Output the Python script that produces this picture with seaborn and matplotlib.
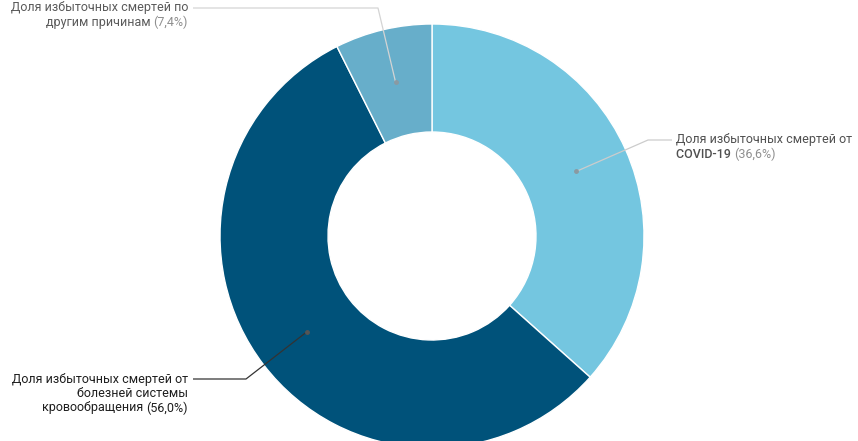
import numpy as np
import matplotlib
matplotlib.use("Agg")
import matplotlib.pyplot as plt
import seaborn as sns

# Data
labels = ["Доля избыточных смертей от\nCOVID-19",
          "Доля избыточных смертей от\nболезней системы\nкровообращения",
          "Доля избыточных смертей по\nдругим причинам"]
pct_text = ["(36,6%)", "(56,0%)", "(7,4%)"]
values = [36.6, 56.0, 7.4]
colors = ["#74C6E0", "#00527A", "#67AECA"]

sns.set_style("white")
plt.rcParams['font.family'] = ['Roboto', 'DejaVu Sans']

W, H = 858, 441
fig = plt.figure(figsize=(W / 100, H / 100), dpi=100)
ax = fig.add_axes([0, 0, 1, 1])

cx, cy, r_out, r_in = 432, 236, 212, 104
wedges, _ = ax.pie(values, colors=colors, center=(cx, cy), radius=r_out,
                   startangle=-90, counterclock=True,
                   wedgeprops=dict(width=r_out - r_in, edgecolor="white", linewidth=1))
ax.set_xlim(0, W)
ax.set_ylim(H, 0)
ax.set_aspect("auto")
ax.axis("off")

# leader anchor points from wedge mid angles
r_mid = (r_out + r_in) / 2
mids = []
for w in wedges:
    a = np.deg2rad((w.theta1 + w.theta2) / 2)
    mids.append((cx + r_mid * np.cos(a), cy + r_mid * np.sin(a)))

# layout: (elbow, end, text x, text y, align, line color, text color, pct color, weight)
layout = [
    ((648, 140), (672, 140), 676, 140, "left", "#cccccc", "#505050", "#8f8f8f", "normal"),
    ((246, 379), (193, 379), 188, 379, "right", "#333333", "#1e1e1e", "#1e1e1e", "normal"),
    ((378, 8), (193, 8), 188, 8, "right", "#d4d4d4", "#5a5a5a", "#8f8f8f", "normal"),
]

fs = 9
lh = 14.5
fig.canvas.draw()
renderer = fig.canvas.get_renderer()
for i, (elbow, end, tx, ty, ha, lc, tc, pc, fw) in enumerate(layout):
    mx, my = mids[i]
    ax.plot([mx, elbow[0], end[0]], [my, elbow[1], end[1]], color=lc, lw=0.9,
            solid_capstyle="butt")
    ax.plot(mx, my, "o", ms=2.5, color="#555555" if i == 1 else "#8a9aa2")
    lines = labels[i].split("\n")
    for j, line in enumerate(lines):
        y = ty + j * lh
        if j < len(lines) - 1:
            ax.text(tx, y, line, ha=ha, va="center", fontsize=fs, color=tc, fontweight=fw)
            continue
        # COVID-19 appears a touch heavier in the reference
        lw_ = 500 if line == "COVID-19" else fw
        if ha == "left":
            t = ax.text(tx, y, line + " ", ha="left", va="center", fontsize=fs,
                        color=tc, fontweight=lw_)
            bb = t.get_window_extent(renderer)
            x2 = ax.transData.inverted().transform((bb.x1, bb.y0))[0]
            ax.text(x2, y, pct_text[i], ha="left", va="center", fontsize=fs, color=pc)
        else:
            t = ax.text(tx, y, pct_text[i], ha="right", va="center", fontsize=fs, color=pc)
            bb = t.get_window_extent(renderer)
            x0 = ax.transData.inverted().transform((bb.x0, bb.y0))[0]
            ax.text(x0, y, line + " ", ha="right", va="center", fontsize=fs,
                    color=tc, fontweight=lw_)

fig.savefig("out.png", dpi=100)
